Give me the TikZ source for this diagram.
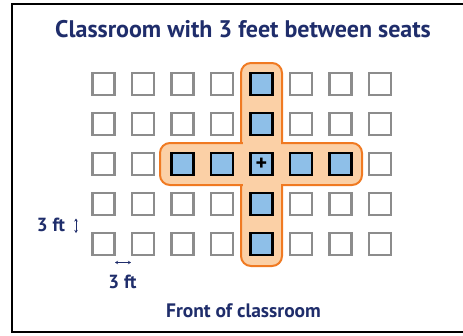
\documentclass[tikz,border=0pt]{standalone}
\usepackage{fontspec}
\setmainfont{PT Sans}
\usetikzlibrary{arrows.meta}
\definecolor{navy}{HTML}{1F2D6B}
\definecolor{seatgray}{HTML}{8C8C8C}
\definecolor{seatblue}{HTML}{8EBFE8}
\definecolor{peach}{HTML}{FBD0A6}
\definecolor{orng}{HTML}{F07A22}
\begin{document}
\begin{tikzpicture}[x=1pt,y=-1pt,
  seat/.style={draw=seatgray,line width=2.4pt,fill=white,minimum size=22pt,inner sep=0pt},
  selseat/.style={draw=black,line width=2.4pt,fill=seatblue,minimum size=22pt,inner sep=0pt},
  lbl/.style={text=navy,font=\bfseries\fontsize{19}{22}\selectfont,inner sep=0pt},
  dimarrow/.style={navy,line width=0.8pt,{Stealth[length=3pt,width=3.5pt]}-{Stealth[length=3pt,width=3.5pt]}},
  crossbar/.style={fill=peach,draw=orng,line width=2pt,rounded corners=10pt}]
\useasboundingbox (0,0) rectangle (463,335);
\fill[white] (0,0) rectangle (463,335);
\draw[line width=2pt] (470,4) -- (12,4) -- (12,332) -- (470,332);
% title
\node[lbl,font=\bfseries\fontsize{24}{28}\selectfont] (title) at (243,29) {Classroom with 3 feet between seats};
% cross highlight
\draw[crossbar] (241,63) rectangle (282,266);
\draw[crossbar] (160,143) rectangle (362,185);
\fill[peach] (239.8,144.5) rectangle (283.2,183.5);
\fill[peach] (242.5,141.5) rectangle (280.5,186.5);
% seats
\foreach \r in {0,...,4}{
  \foreach \c in {0,...,7}{
    \pgfmathsetmacro{\xx}{103.5+39.5*\c}
    \pgfmathsetmacro{\yy}{84+40*\r}
    \pgfmathtruncatemacro{\sel}{(\r==2 && \c>=2 && \c<=6) || (\c==4) ? 1 : 0}
    \ifnum\sel=1
      \node[selseat] (s-\r-\c) at (\xx,\yy) {};
    \else
      \node[seat] (s-\r-\c) at (\xx,\yy) {};
    \fi
  }
}
\node[inner sep=0pt,font=\bfseries\fontsize{22}{22}\selectfont] (plus) at (s-2-4) {+};
% dimension marks
\coordinate (va) at (76,218.5);
\coordinate (vb) at (76,233);
\draw[dimarrow] (va) -- (vb);
\coordinate (ha) at (115,262.5);
\coordinate (hb) at (131,262.5);
\draw[dimarrow] (ha) -- (hb);
\node[lbl] (ftv) at (51,225) {3 ft};
\node[lbl] (fth) at (122.5,281.5) {3 ft};
\node[lbl,font=\bfseries\fontsize{19.5}{22}\selectfont] (front) at (243.5,311) {Front of classroom};
\end{tikzpicture}
\end{document}
